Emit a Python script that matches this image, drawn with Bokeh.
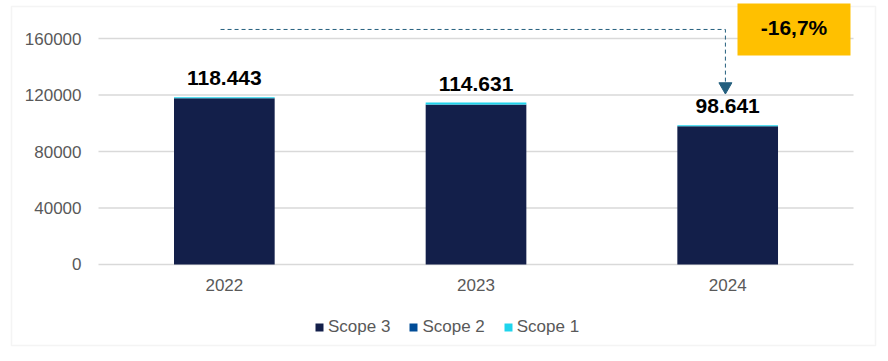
from bokeh.plotting import figure
from bokeh.models import Range1d, Legend, LegendItem, BoxAnnotation, ColumnDataSource
from bokeh.core.properties import value
from bokeh.embed import file_html
from bokeh.resources import INLINE

years = ["2022", "2023", "2024"]
scope3 = [117643, 113131, 97841]
scope2 = [100, 100, 100]
scope1 = [700, 1400, 700]
y_ticks = [0, 40000, 80000, 120000, 160000]
y_tick_labels = ["0", "40000", "80000", "120000", "160000"]
change_label = "-16,7%"

totals = [a + b + c for a, b, c in zip(scope3, scope2, scope1)]
total_labels = [f"{t:,}".replace(",", ".") for t in totals]
xpos = [i + 0.5 for i in range(len(years))]
n = len(years)

FONT = "Liberation Sans"
GREY = "#595959"
GRID = "#d9d9d9"

# frame covers the whole canvas; category i spans [i, i+1]
p = figure(width=888, height=361, x_range=Range1d(-0.3894, 3.139),
           y_range=Range1d(-68673, 186903), output_backend="svg",
           toolbar_location=None, min_border=0, x_axis_type=None, y_axis_type=None)
p.outline_line_color = None
p.background_fill_color = "white"
p.border_fill_color = "white"
p.xgrid.visible = False
p.ygrid.visible = False

# grid lines
p.segment(x0=[0] * len(y_ticks), x1=[n] * len(y_ticks), y0=y_ticks, y1=y_ticks,
          line_color=GRID, line_width=1.5)

src = ColumnDataSource(dict(x=xpos, year=years, s3=scope3, s2=scope2, s1=scope1,
                            total=totals, label=total_labels, zero=[0] * n))
colors = ["#131f4a", "#004c97", "#1fd4ec"]
rs = p.vbar_stack(["s3", "s2", "s1"], x="x", width=0.4, color=colors,
                  source=src, line_width=0)

# value labels
p.text(x="x", y="total", text="label", source=src, text_align="center",
       text_baseline="alphabetic", y_offset=-19, text_font=value(FONT),
       text_font_size="21px", text_font_style="bold", text_color="#000000")

# axis tick labels
p.text(x="x", y="zero", text="year", source=src, text_align="center",
       text_baseline="middle", y_offset=21, text_font=value(FONT),
       text_font_size="17px", text_color=GREY)
p.text(x=[0] * len(y_ticks), y=y_ticks, text=y_tick_labels, text_align="right",
       text_baseline="middle", x_offset=-17, text_font=value(FONT),
       text_font_size="17px", text_color=GREY)

# connector
conn_x = [0.485, 2.491, 2.491]
conn_y = [166400, 166400, 126000]
p.line(conn_x, conn_y, line_color="#245f7e", line_width=1, line_dash="4 3")
p.scatter([conn_x[-1]], [conn_y[-1]], marker="inverted_triangle", size=13,
          fill_color="#245f7e", line_color="#245f7e")

# change box
box_l, box_r, box_t, box_b = 2.539, 2.988, 184800, 148000
p.quad(left=[box_l], right=[box_r], top=[box_t], bottom=[box_b],
       fill_color="#ffc000", line_color=None)
p.text(x=[(box_l + box_r) / 2], y=[(box_t + box_b) / 2 + 1500], text=[change_label],
       text_align="center", text_baseline="middle", text_font=value(FONT),
       text_font_size="21px", text_font_style="bold", text_color="#000000")

legend = Legend(items=[LegendItem(label="Scope 3", renderers=[rs[0]]),
                       LegendItem(label="Scope 2", renderers=[rs[1]]),
                       LegendItem(label="Scope 1", renderers=[rs[2]])],
                orientation="horizontal", location=(314, 24),
                glyph_width=10, glyph_height=10, label_standoff=4, spacing=18,
                padding=0, margin=0, border_line_color=None,
                background_fill_alpha=0, label_text_font=FONT,
                label_text_font_size="17px", label_text_color=GREY)
p.add_layout(legend)

# outer frame
p.add_layout(BoxAnnotation(left=11, right=875, top=16, bottom=355,
                           left_units="screen", right_units="screen",
                           top_units="screen", bottom_units="screen",
                           fill_color=None, fill_alpha=0, line_color=GRID,
                           line_width=1.5, level="underlay"))

open("out.html", "w").write(file_html(p, INLINE))
